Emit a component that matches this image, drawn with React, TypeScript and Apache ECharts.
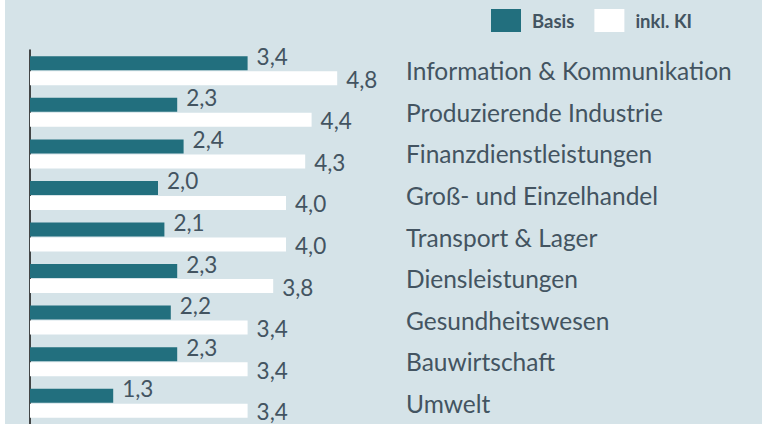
import React, { useEffect, useRef } from "react";
import * as echarts from "echarts";

const categories = [
  "Information & Kommunikation",
  "Produzierende Industrie",
  "Finanzdienstleistungen",
  "Groß- und Einzelhandel",
  "Transport & Lager",
  "Diensleistungen",
  "Gesundheitswesen",
  "Bauwirtschaft",
  "Umwelt",
];
const basis = [3.4, 2.3, 2.4, 2.0, 2.1, 2.3, 2.2, 2.3, 1.3];
const inklKI = [4.8, 4.4, 4.3, 4.0, 4.0, 3.8, 3.4, 3.4, 3.4];
const seriesNames = ["Basis", "inkl. KI"];

const TEAL = "#226f7e";
const TEXT = "#435461";
const BG = "#d5e3e8";
const FONT = "Lato, 'Noto Sans', sans-serif";

export default function App() {
  const ref = useRef<HTMLDivElement>(null);
  useEffect(() => {
    if (!ref.current) return;
    const chart = echarts.init(ref.current, undefined, { renderer: "svg" });
    const fmt = (p: any) => Number(p.value).toFixed(1).replace(".", ",");
    chart.setOption({
      animation: false,
      backgroundColor: BG,
      textStyle: { fontFamily: FONT },
      legend: {
        left: 481,
        top: 4,
        itemWidth: 30,
        itemHeight: 23,
        itemGap: 20,
        icon: "rect",
        data: seriesNames,
        textStyle: {
          fontFamily: FONT,
          fontSize: 18.5,
          fontWeight: "bold",
          color: TEXT,
          padding: [0, 0, 0, 6],
        },
      },
      grid: { left: 25, top: 50, width: 320, height: 375 },
      xAxis: {
        type: "value",
        min: 0,
        max: 5,
        show: false,
      },
      yAxis: [
        {
          type: "category",
          data: categories,
          inverse: true,
          position: "left",
          axisLine: { show: true, lineStyle: { color: "#111", width: 1.5 } },
          axisTick: { show: false },
          axisLabel: { show: false },
        },
        {
          type: "category",
          data: categories,
          inverse: true,
          position: "right",
          axisLine: { show: false },
          axisTick: { show: false },
          axisLabel: {
            show: true,
            margin: 56,
            align: "left",
            fontFamily: FONT,
            fontSize: 24.5,
            color: TEXT,
          },
        },
      ],
      series: [
        {
          name: seriesNames[0],
          type: "bar",
          data: basis,
          yAxisIndex: 0,
          barWidth: 14,
          barGap: "7%",
          itemStyle: { color: TEAL },
          label: {
            show: true,
            position: "right",
            distance: 9,
            offset: [0, -7],
            formatter: fmt,
            fontFamily: FONT,
            fontSize: 22.5,
            color: TEXT,
          },
        },
        {
          name: seriesNames[1],
          type: "bar",
          data: inklKI,
          yAxisIndex: 0,
          barWidth: 14,
          barGap: "7%",
          itemStyle: { color: "#ffffff" },
          label: {
            show: true,
            position: "right",
            distance: 9,
            offset: [0, 1],
            formatter: fmt,
            fontFamily: FONT,
            fontSize: 22.5,
            color: TEXT,
          },
        },
      ],
    });
    return () => chart.dispose();
  }, []);
  return (
    <div style={{ position: "fixed", left: 0, top: 0, width: 762, height: 424, background: "#ffffff" }}>
      <div ref={ref} style={{ position: "absolute", left: 5, top: 0, width: 757, height: 424 }} />
    </div>
  );
}
